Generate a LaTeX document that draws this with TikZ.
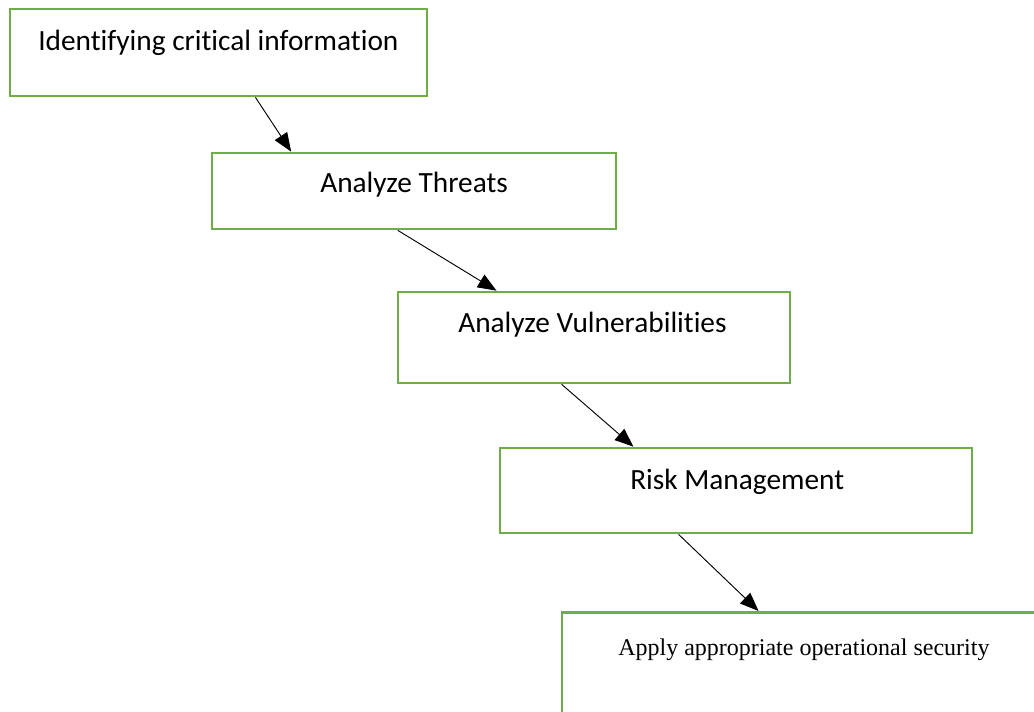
\documentclass[tikz,border=0pt]{standalone}
\usepackage{fontspec}
\setmainfont[Ligatures=NoCommon]{Carlito}
\newfontfamily\timesfont{Liberation Serif}
\usetikzlibrary{arrows.meta,calc}
\definecolor{boxgreen}{HTML}{70AD47}
\tikzset{
  stepbox/.style={draw=boxgreen, line width=2pt, fill=none, inner sep=0pt, rectangle},
  steptext/.style={anchor=base west, inner sep=0pt, font=\fontsize{22}{26}\selectfont},
  flow/.style={draw=black, line width=0.7pt, -{Triangle[length=14pt,width=11pt]}}
}
\begin{document}
\begin{tikzpicture}[x=0.75pt, y=-0.75pt]
  \useasboundingbox (0,0) rectangle (1034,711);
  % process boxes
  \node[stepbox, minimum width=312.75pt, minimum height=65.25pt] (b1) at (218.5,52.5) {};
  \node[stepbox, minimum width=303pt, minimum height=57pt] (b2) at (414,191) {};
  \node[stepbox, minimum width=294pt, minimum height=68.25pt] (b3) at (594,337.5) {};
  \node[stepbox, minimum width=354pt, minimum height=63.75pt] (b4) at (736,490.5) {};
  \node[stepbox, minimum width=360pt, minimum height=82pt] (b5) at (802,667) {};
  % labels
  \node[steptext] (t1) at (38,50) {Identifying critical information};
  \node[steptext] (t2) at (320,192) {Analyze Threats};
  \node[steptext] (t3) at (458,332) {Analyze Vulnerabilities};
  \node[steptext] (t4) at (630,489) {Risk Management};
  \node[anchor=base west, inner sep=0pt, font=\timesfont\fontsize{18}{21}\selectfont] (t5) at (618,655) {Apply appropriate operational security};
  % connectors
  \draw[flow] ($(b1.south west)!0.588!(b1.south east)$) -- ($(b2.north west)!0.198!(b2.north east)$);
  \draw[flow] ($(b2.south west)!0.46!(b2.south east)$) -- ($(b3.north west)!0.253!(b3.north east)$);
  \draw[flow] ($(b3.south west)!0.418!(b3.south east)$) -- ($(b4.north west)!0.284!(b4.north east)$);
  \draw[flow] ($(b4.south west)!0.379!(b4.south east)$) -- ($(b5.north west)!0.41!(b5.north east)$);
\end{tikzpicture}
\end{document}
